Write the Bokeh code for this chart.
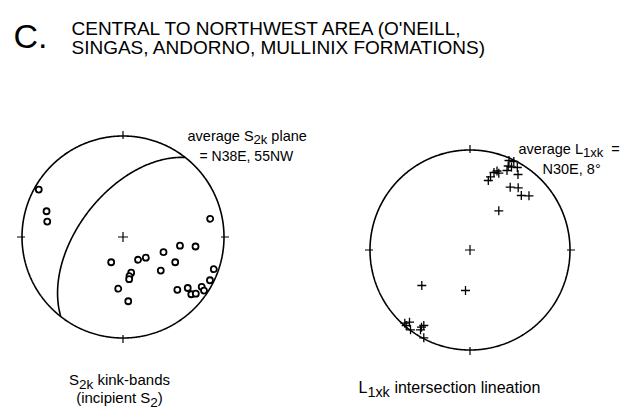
import numpy as np
from bokeh.plotting import figure
from bokeh.layouts import column, row
from bokeh.models import Range1d
from bokeh.core.properties import value
from bokeh.embed import file_html
from bokeh.resources import INLINE

# ---------------- data (unit-net coordinates, equal-area) ----------------
s2k_x = [-0.834, -0.757, -0.750, 0.863, -0.117, 0.149, 0.226, 0.401, 0.564, 0.718,
         0.517, 0.374, 0.081, 0.064, 0.061, -0.047, 0.052, 0.538, 0.641, 0.676,
         0.721, 0.779, 0.802, 0.861, 0.899]
s2k_y = [0.470, 0.255, 0.153, 0.180, -0.250, -0.225, -0.205, -0.150, -0.086, -0.094,
         -0.250, -0.332, -0.353, -0.388, -0.418, -0.512, -0.636, -0.523, -0.505, -0.567,
         -0.561, -0.493, -0.530, -0.428, -0.319]

l1xk_x = [0.288, -0.482, -0.045, 0.402, 0.482, 0.513, 0.590, 0.183, 0.205, 0.240,
          0.270, 0.288, 0.370, 0.382, 0.390, 0.438, 0.473, 0.480, 0.415,
          -0.652, -0.605, -0.638, -0.595, -0.485, -0.462, -0.495, -0.462]
l1xk_y = [0.392, -0.355, -0.405, 0.628, 0.622, 0.545, 0.542, 0.695, 0.732, 0.775,
          0.790, 0.768, 0.795, 0.840, 0.895, 0.885, 0.825, 0.755, 0.830,
          -0.732, -0.722, -0.755, -0.798, -0.772, -0.755, -0.798, -0.878]

avg_plane_strike = 38.0   # N38E
avg_plane_dip = 55.0      # 55 NW (dip direction = strike - 90)

title_letter = "C."
title_lines = ["CENTRAL TO NORTHWEST AREA (O'NEILL,", "SINGAS, ANDORNO, MULLINIX FORMATIONS)"]

FONT = "Liberation Sans"

# ---------------- text metrics ----------------
try:
    from PIL import ImageFont
    _fcache = {}

    def text_w(s, size):
        k = round(size * 4)
        if k not in _fcache:
            _fcache[k] = ImageFont.truetype("LiberationSans-Regular.ttf", k)
        return _fcache[k].getlength(s) / 4.0
    text_w("a", 10)
except Exception:
    def text_w(s, size):
        return 0.52 * size * len(s)

# ---------------- layout ----------------
W = 637
TH = 78
PH = 409 - TH
LEFT_W = 318
RIGHT_W = W - LEFT_W
SUB = 0.9


def net_figure(width, left_px, top_px, cx, cy, R):
    fx = cx - left_px
    fy = cy - top_px
    p = figure(width=width, height=PH, output_backend="svg", toolbar_location=None,
               x_range=Range1d(-fx / R, (width - fx) / R),
               y_range=Range1d(-(PH - fy) / R, fy / R),
               x_axis_type=None, y_axis_type=None, min_border=0,
               outline_line_color=None, background_fill_color="white",
               border_fill_color="white")

    def to_data(sx, sy):
        return (sx - cx) / R, (cy - sy) / R
    return p, to_data


def draw_net(p, R):
    t = np.linspace(0, 2 * np.pi, 721)
    p.line(np.cos(t), np.sin(t), line_color="black", line_width=1.6)
    o = 1.0 + 5.0 / R
    i = 1.0 - 3.0 / R
    p.segment(x0=[0, o, 0, -o], y0=[o, 0, -o, 0], x1=[0, i, 0, -i], y1=[i, 0, -i, 0],
              line_color="black", line_width=1.2)
    p.scatter([0], [0], marker="cross", size=10, line_color="black", line_width=1.2)


def rich(p, to_data, pieces, sx, sy, size, anchor="left"):
    items = []
    for txt, sub in pieces:
        sz = size * SUB if sub else size
        lead = len(txt) - len(txt.lstrip(" "))
        body = txt.lstrip(" ")
        items.append((body, sub, sz, text_w(" " * lead, sz), text_w(body, sz)))
    total = sum(a + b for _, _, _, a, b in items)
    x = sx if anchor == "left" else sx - total / 2.0
    for body, sub, sz, lw, bw in items:
        x += lw
        yy = sy + (size * 0.3 if sub else 0)
        dx, dy = to_data(x, yy)
        p.text([dx], [dy], text=[body], text_font=value(FONT), text_font_size=f"{sz:.1f}px",
               text_color="black", text_align="left", text_baseline="alphabetic")
        x += bw


# ---------------- title ----------------
tp = figure(width=W, height=TH, output_backend="svg", toolbar_location=None,
            x_range=Range1d(0, W), y_range=Range1d(TH, 0),
            x_axis_type=None, y_axis_type=None, min_border=0, outline_line_color=None)
tp.text([13], [35], text=[title_letter], text_font=value(FONT), text_font_size="34px",
        text_baseline="alphabetic", text_align="left")
tp.text([71, 71], [28, 47], text=title_lines, text_font=value(FONT), text_font_size="19px",
        text_baseline="alphabetic", text_align="left")

# ---------------- left net ----------------
R1 = 101.0
p1, d1 = net_figure(LEFT_W, 0, TH, 122.5, 236.5, R1)
draw_net(p1, R1)

# great circle of the average plane (equal-area projection, lower hemisphere)
s = np.radians(avg_plane_strike)
dd = s - np.pi / 2
dip = np.radians(avg_plane_dip)
tt = np.linspace(0, np.pi, 181)
E = np.cos(tt) * np.sin(s) + np.sin(tt) * np.cos(dip) * np.sin(dd)
N = np.cos(tt) * np.cos(s) + np.sin(tt) * np.cos(dip) * np.cos(dd)
D = np.sin(tt) * np.sin(dip)
plunge = np.arcsin(np.clip(D, -1, 1))
trend = np.arctan2(E, N)
rr = np.sqrt(2) * np.sin((np.pi / 2 - plunge) / 2)
p1.line(rr * np.sin(trend), rr * np.cos(trend), line_color="black", line_width=1.6)

p1.scatter(s2k_x, s2k_y, marker="circle", size=6, line_color="black", line_width=1.8,
           fill_color="white")

rich(p1, d1, [("average S", 0), ("2k", 1), (" plane", 0)], 187, 135, 14.5)
rich(p1, d1, [("= N38E, 55NW", 0)], 199, 155, 14)
rich(p1, d1, [("S", 0), ("2k", 1), (" kink-bands", 0)], 119, 379, 15, anchor="center")
rich(p1, d1, [("(incipient S", 0), ("2", 1), (")", 0)], 119, 397, 15, anchor="center")

# ---------------- right net ----------------
R2 = 100.0
p2, d2 = net_figure(RIGHT_W, LEFT_W, TH, 469.5, 249.5, R2)
draw_net(p2, R2)
p2.scatter(l1xk_x, l1xk_y, marker="cross", size=9, line_color="black", line_width=1.3)

rich(p2, d2, [("average L", 0), ("1xk", 1), ("  =", 0)], 518, 148, 14.5)
rich(p2, d2, [("N30E, 8°", 0)], 542, 168, 14.5)
rich(p2, d2, [("L", 0), ("1xk", 1), (" intersection lineation", 0)], 358, 387, 16)

layout = column(tp, row(p1, p2))
open("out.html", "w").write(file_html(layout, INLINE))
